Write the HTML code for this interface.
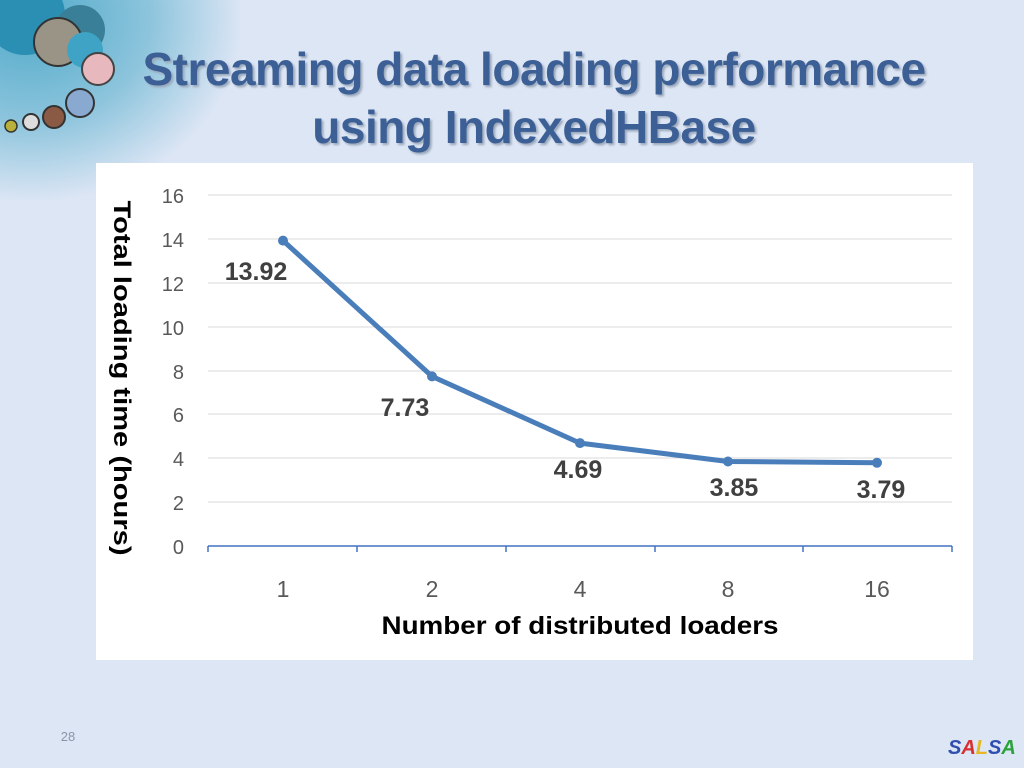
<!DOCTYPE html>
<html><head><style>
body{margin:0;width:1024px;height:768px;overflow:hidden;background:#dde6f5;font-family:"Liberation Sans",sans-serif;position:relative}
.glow{position:absolute;left:-60px;top:-60px;width:300px;height:260px;background:radial-gradient(ellipse at 30% 30%,#4fa9c9 0%,#8cc4dc 40%,rgba(221,230,245,0) 72%)}
h1{position:absolute;left:0;width:1068px;top:40px;margin:0;text-align:center;font-size:46px;line-height:58px;color:#3c5f96;font-weight:bold;text-shadow:2px 2px 2px #9aa8bb;letter-spacing:-0.5px}
</style></head><body>
<div class="glow"></div>
<svg style="position:absolute;left:0;top:0" width="200" height="160">
<circle cx="25" cy="15" r="40" fill="#2a8fb3"/><circle cx="80" cy="30" r="25" fill="#3a7f98"/><circle cx="58" cy="42" r="24" fill="#9a9486" stroke="#333" stroke-width="2"/>
<circle cx="85" cy="50" r="18" fill="#3fa3c5"/><circle cx="98" cy="69" r="16" fill="#e7b8be" stroke="#444" stroke-width="2"/>
<circle cx="80" cy="103" r="14" fill="#8aa9d0" stroke="#333" stroke-width="2"/><circle cx="54" cy="117" r="11" fill="#8a5a44" stroke="#333" stroke-width="2"/>
<circle cx="31" cy="122" r="8" fill="#ddd" stroke="#333" stroke-width="2"/><circle cx="11" cy="126" r="6" fill="#b9b03b" stroke="#333" stroke-width="1.5"/>
</svg>
<h1>Streaming data loading performance<br>using IndexedHBase</h1>
<svg style="position:absolute;left:0;top:0" width="1024" height="768" font-family="Liberation Sans, DejaVu Sans, sans-serif">
<rect x="96" y="163" width="877" height="497" fill="#fff"/>
<g stroke="#d9d9d9" stroke-width="1">
<line x1="208" x2="952" y1="195" y2="195"/><line x1="208" x2="952" y1="239" y2="239"/><line x1="208" x2="952" y1="283" y2="283"/><line x1="208" x2="952" y1="327" y2="327"/><line x1="208" x2="952" y1="371" y2="371"/><line x1="208" x2="952" y1="414" y2="414"/><line x1="208" x2="952" y1="458" y2="458"/><line x1="208" x2="952" y1="502" y2="502"/>
</g>
<g stroke="#4472c4" stroke-width="1.5"><line x1="208" x2="952" y1="546" y2="546"/>
<line x1="208" x2="208" y1="546" y2="552"/><line x1="357" x2="357" y1="546" y2="552"/><line x1="506" x2="506" y1="546" y2="552"/><line x1="655" x2="655" y1="546" y2="552"/><line x1="803" x2="803" y1="546" y2="552"/><line x1="952" x2="952" y1="546" y2="552"/></g>
<g fill="#595959" font-size="20" text-anchor="end">
<text x="184" y="203">16</text><text x="184" y="247">14</text><text x="184" y="291">12</text><text x="184" y="335">10</text><text x="184" y="379">8</text><text x="184" y="422">6</text><text x="184" y="466">4</text><text x="184" y="510">2</text><text x="184" y="554">0</text></g>
<g fill="#595959" font-size="23" text-anchor="middle">
<text x="283" y="597">1</text><text x="432" y="597">2</text><text x="580" y="597">4</text><text x="728" y="597">8</text><text x="877" y="597">16</text></g>
<polyline points="283,240.6 432,376.4 580,443.1 728,461.5 877,462.8" fill="none" stroke="#4a7ebb" stroke-width="5" stroke-linejoin="round"/>
<g fill="#4a7ebb"><circle cx="283" cy="240.6" r="5"/><circle cx="432" cy="376.4" r="5"/><circle cx="580" cy="443.1" r="5"/><circle cx="728" cy="461.5" r="5"/><circle cx="877" cy="462.8" r="5"/></g>
<g fill="#404040" font-size="25" font-weight="bold" text-anchor="middle">
<text x="256" y="280">13.92</text><text x="405" y="416">7.73</text><text x="578" y="478">4.69</text><text x="734" y="496">3.85</text><text x="881" y="498">3.79</text></g>
<text x="580" y="634" text-anchor="middle" font-size="25" font-weight="bold" fill="#000" textLength="397" lengthAdjust="spacingAndGlyphs">Number of distributed loaders</text>
<text transform="translate(114,378) rotate(90)" text-anchor="middle" font-size="24" font-weight="bold" fill="#000" textLength="355" lengthAdjust="spacingAndGlyphs">Total  loading  time (hours)</text>
<text x="68" y="741" font-size="13" fill="#8a96a8" text-anchor="middle">28</text>
<text x="948" y="754" font-size="20" font-weight="bold" font-style="italic"><tspan fill="#2f4fb0">S</tspan><tspan fill="#d83030">A</tspan><tspan fill="#e8b820">L</tspan><tspan fill="#2f4fb0">S</tspan><tspan fill="#2aa33a">A</tspan></text>
</svg>
</body></html>
